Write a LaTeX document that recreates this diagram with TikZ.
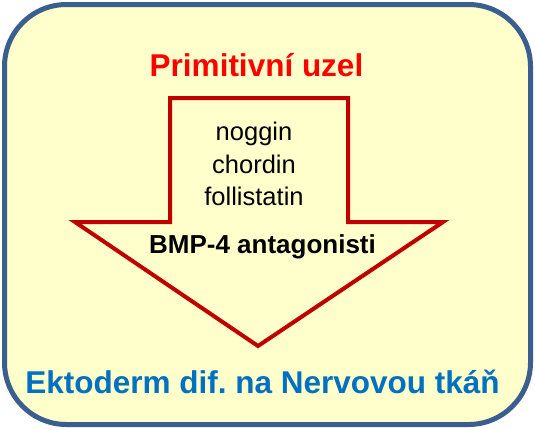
\documentclass[tikz,border=0pt]{standalone}
\usepackage{fontspec}
\setmainfont{Liberation Sans}
\usepackage{xcolor}
\definecolor{framefill}{HTML}{FFFFCC}
\definecolor{frameblue}{HTML}{3A5F8F}
\definecolor{arrowred}{HTML}{C00000}
\definecolor{titlered}{HTML}{FF0000}
\definecolor{endblue}{HTML}{0070C0}
\frenchspacing

\begin{document}
\begin{tikzpicture}[x=1pt, y=-1pt,
  label/.style={anchor=base, inner sep=0pt, font=\fontsize{#1}{#1}\selectfont},
  label/.default=25.5,
  boldlabel/.style={anchor=base, inner sep=0pt, font=\fontsize{#1}{#1}\selectfont\bfseries}]
  \useasboundingbox (0,0) rectangle (535,429);
  % frame
  \draw[line width=5pt, draw=frameblue, fill=framefill, rounded corners=62pt]
    (4.5,4.5) rectangle (530.5,424.5);
  % big arrow
  \draw[line width=4pt, draw=arrowred, fill=framefill, line join=miter]
    (170,98) -- (348,98) -- (348,222) -- (443,222) -- (258,346)
    -- (75,222) -- (170,222) -- cycle;
  \node[boldlabel=31.5, text=titlered] (uzel) at (256.5,76) {Primitivní uzel};
  \node[label] (noggin) at (254,140) {noggin};
  \node[label] (chordin) at (254,173) {chordin};
  \node[label] (follistatin) at (254,205.5) {follistatin};
  \node[boldlabel=26] (bmp) at (262.5,253) {BMP-4 antagonisti};
  \node[boldlabel=31.5, text=endblue] (ektoderm) at (262.5,393) {Ektoderm dif. na Nervovou tkáň};
\end{tikzpicture}
\end{document}
